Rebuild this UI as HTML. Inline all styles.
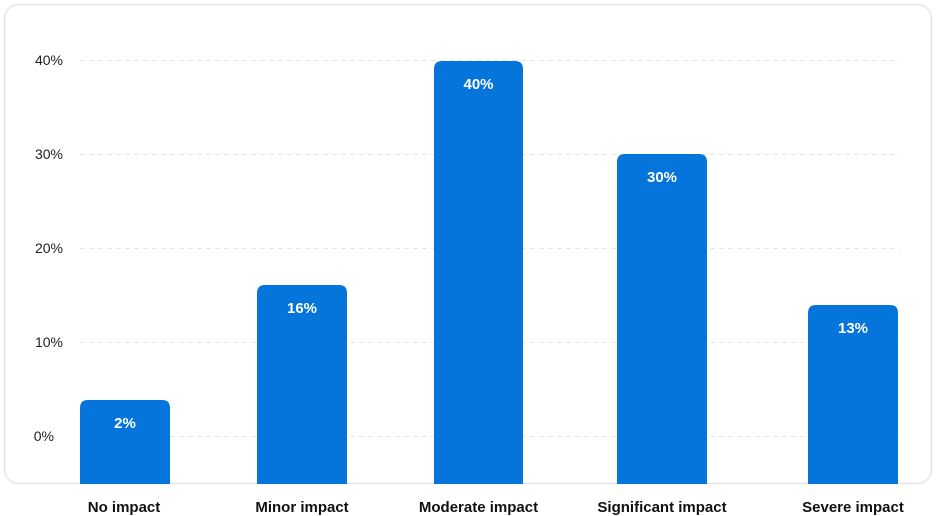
<!DOCTYPE html>
<html><head><meta charset="utf-8"><style>
html,body{margin:0;padding:0;background:#fff;}
svg{display:block;}
</style></head><body>
<svg width="937" height="516" viewBox="0 0 937 516" xmlns="http://www.w3.org/2000/svg">
<rect x="4.5" y="4.5" width="927" height="479" rx="14" ry="14" fill="#fff" stroke="#e4e4e4" stroke-width="1.5"/>
<g stroke="#e6e6e6" stroke-width="1" stroke-dasharray="5,4">
<line x1="80" y1="60.5" x2="900" y2="60.5"/>
<line x1="80" y1="154.5" x2="900" y2="154.5"/>
<line x1="80" y1="248.5" x2="900" y2="248.5"/>
<line x1="80" y1="342.5" x2="900" y2="342.5"/>
<line x1="80" y1="436.5" x2="900" y2="436.5"/>
</g>
<g font-family="Liberation Sans, sans-serif" font-size="14" fill="#222" text-anchor="end">
<text x="63" y="65">40%</text>
<text x="63" y="159">30%</text>
<text x="63" y="253">20%</text>
<text x="63" y="347">10%</text>
<text x="54" y="441">0%</text>
</g>
<g fill="#0575dc">
<path d="M80,484 V408 Q80,400 88,400 H162 Q170,400 170,408 V484 Z"/>
<path d="M257,484 V293 Q257,285 265,285 H339 Q347,285 347,293 V484 Z"/>
<path d="M434,484 V69 Q434,61 442,61 H515 Q523,61 523,69 V484 Z"/>
<path d="M617,484 V162 Q617,154 625,154 H699 Q707,154 707,162 V484 Z"/>
<path d="M808,484 V313 Q808,305 816,305 H890 Q898,305 898,313 V484 Z"/>
</g>
<g font-family="Liberation Sans, sans-serif" font-size="15" font-weight="bold" fill="#fff" text-anchor="middle">
<text x="125" y="428">2%</text>
<text x="302" y="313">16%</text>
<text x="478.5" y="89">40%</text>
<text x="662" y="182">30%</text>
<text x="853" y="333">13%</text>
</g>
<g font-family="Liberation Sans, sans-serif" font-size="15" font-weight="bold" fill="#111" text-anchor="middle">
<text x="124" y="512">No impact</text>
<text x="302" y="512">Minor impact</text>
<text x="478.5" y="512">Moderate impact</text>
<text x="662" y="512">Significant impact</text>
<text x="853" y="512">Severe impact</text>
</g>
</svg>
</body></html>
